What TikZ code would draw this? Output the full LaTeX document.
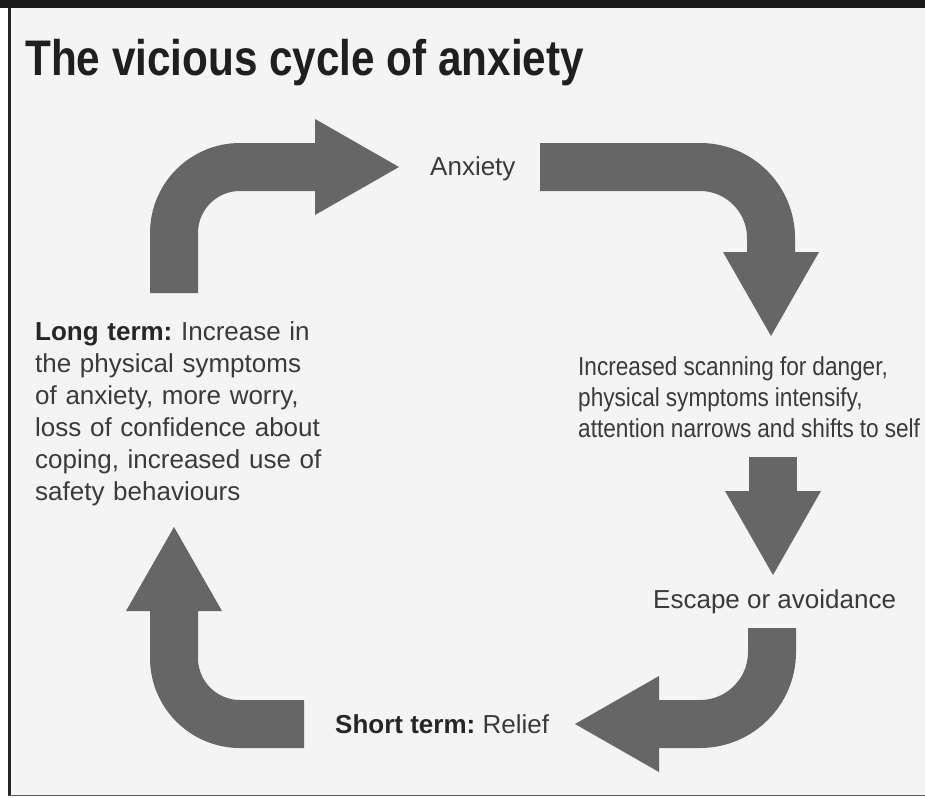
\documentclass[tikz,border=0pt]{standalone}
\usepackage{fontspec}
\setmainfont{Liberation Sans}
\newfontfamily\titlefont{Liberation Sans}[FakeStretch=0.845]
\newfontfamily\narrowfont{Liberation Sans}[FakeStretch=0.87]
\usepackage{xcolor}
\usepackage{tikz}
\usetikzlibrary{positioning, calc}
\definecolor{panelgray}{HTML}{F4F4F4}
\definecolor{arrowgray}{HTML}{666666}
\definecolor{textgray}{HTML}{3A3A3A}
\frenchspacing

\tikzset{
  shaft/.style={draw=arrowgray, line width=48pt},
  cycletext/.style={anchor=base west, inner sep=0pt, text=textgray, align=left,
                    font={\fontsize{26}{32}\selectfont}},
}
% head of a cycle arrow: base centre, direction
\newcommand{\cyclehead}[2]{%
  \fill[arrowgray, shift={(#1)}, rotate=#2] (-1,-48) -- (83,0) -- (-1,48) -- cycle;}

\begin{document}
\begin{tikzpicture}[x=1pt, y=-1pt]
    \useasboundingbox (0,0) rectangle (925,797);
    % frame
    \fill[white] (0,0) rectangle (925,797);
    \fill[panelgray] (9,8) rectangle (925,796);
    \fill[black!90] (0,0) rectangle (925,8);
    \draw[black!85, line width=2.5pt] (9.5,8) -- (9.5,796);
    \draw[black!65, line width=1.5pt] (9,795.5) -- (925,795.5);

    \node[cycletext, text=black!88, font={\titlefont\bfseries\fontsize{50}{60}\selectfont}]
      (title) at (25,76) {The vicious cycle of anxiety};

    \node[cycletext] (anxiety) at (430,175) {Anxiety};
    \node[cycletext, text width=400pt, font={\narrowfont\fontsize{26}{31}\selectfont}] (scanning) at (578,375)
      {\spaceskip=6pt plus 1pt\relax
       Increased scanning for danger,\\physical symptoms intensify,\\attention narrows and shifts to self};
    \node[cycletext] (escape) at (653,608) {Escape or avoidance};
    \node[cycletext] (relief) at (335,733) {\textbf{\color{black!85}Short term:} Relief};
    \node[cycletext, text width=320pt] (longterm) at (35,340)
      {\textbf{\color{black!85}Long term:} Increase in\\the physical symptoms\\of anxiety, more worry,\\loss of confidence about\\coping, increased use of\\safety behaviours};

    % arrows round the cycle
    \coordinate (a1) at (174,293);  \coordinate (a1h) at (316,167);
    \coordinate (a2) at (540,167);  \coordinate (a2h) at (771,253);
    \coordinate (a3) at (773,457);  \coordinate (a3h) at (773,492);
    \coordinate (a4) at (772,628);  \coordinate (a4h) at (658,724);
    \coordinate (a5) at (304,724);  \coordinate (a5h) at (174,610);

    \draw[shaft, rounded corners=66pt] (a1) |- (a1h);
    \cyclehead{a1h}{0}
    \draw[shaft, rounded corners=71pt] (a2) -| (a2h);
    \cyclehead{a2h}{-90}
    \draw[shaft] (a3) -- (a3h);
    \cyclehead{a3h}{-90}
    \draw[shaft, rounded corners=72pt] (a4) |- (a4h);
    \cyclehead{a4h}{180}
    \draw[shaft, rounded corners=66pt] (a5) -| (a5h);
    \cyclehead{a5h}{90}
\end{tikzpicture}
\end{document}
